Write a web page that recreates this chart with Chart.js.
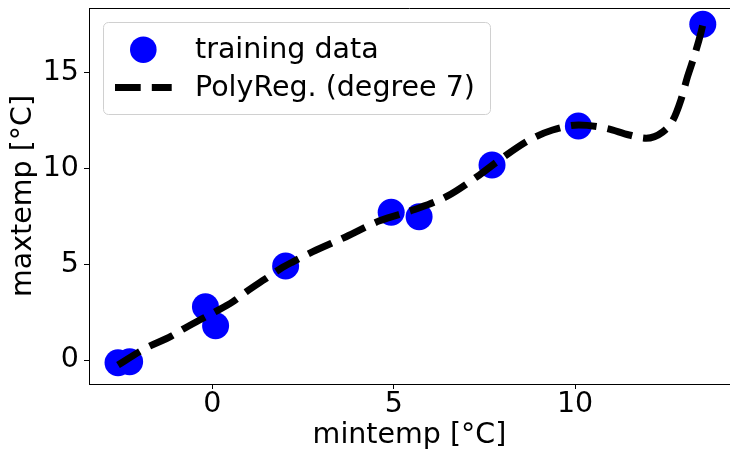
<!DOCTYPE html>
<html lang="en">
<head>
    <meta charset="UTF-8">
    <title>PolyReg degree 7</title>
    <script src="https://cdn.jsdelivr.net/npm/chart.js"></script>
    <style>
        html, body { margin: 0; padding: 0; background: #fff; }
        .chart-container { width: 730px; height: 451px; }
    </style>
</head>
<body>
    <div class="chart-container">
        <canvas id="polyChart"></canvas>
    </div>

    <script>
        // training data
        const trainX = [-2.60, -2.28, -0.19, 0.09, 2.02, 4.93, 5.70, 7.71, 10.09, 13.52];
        const trainY = [-0.14, -0.09, 2.78, 1.79, 4.91, 7.72, 7.48, 10.18, 12.22, 17.53];

        // fitted curve, sampled along the dashed line
        const curveX = [-2.60, -2.00, -1.77, -1.13, -0.85, -0.35, 0.06, 0.57, 0.94, 1.44, 1.94, 2.22,
                        2.77, 3.69, 4.61, 5.53, 6.45, 7.36, 7.91, 8.74, 9.38, 10.10, 10.85, 11.49,
                        11.96, 12.41, 12.69, 12.92, 13.10, 13.29, 13.47, 13.52];
        const curveY = [-0.26, 0.45, 0.69, 1.25, 1.57, 2.09, 2.50, 3.05, 3.57, 4.21, 4.84, 5.13,
                        5.66, 6.44, 7.27, 7.83, 8.53, 9.66, 10.44, 11.49, 12.01, 12.27, 12.10, 11.75,
                        11.58, 11.90, 12.50, 13.60, 14.80, 15.90, 17.10, 17.50];

        const xTicks = [0, 5, 10];
        const yTicks = [0, 5, 10, 15];

        const FONT = "'DejaVu Sans', sans-serif";
        const FSIZE = 28.5;

        // drop the extra room Chart.js keeps for edge labels
        function noPad(s) {
            s.paddingTop = 0;
            s.paddingBottom = 0;
            s.paddingLeft = 0;
            s.paddingRight = 0;
        }

        // matplotlib-like legend box + top spine
        const legendBox = {
            id: "legendBox",
            afterDraw(chart) {
                const ctx = chart.ctx;
                const area = chart.chartArea;
                const sets = chart.data.datasets;

                ctx.save();
                // top spine
                ctx.strokeStyle = "#000";
                ctx.lineWidth = 1;
                ctx.beginPath();
                ctx.moveTo(area.left, area.top + 0.5);
                ctx.lineTo(area.right, area.top + 0.5);
                ctx.stroke();

                // frame
                ctx.fillStyle = "rgba(255,255,255,0.8)";
                ctx.strokeStyle = "#d0d0d0";
                ctx.beginPath();
                ctx.roundRect(103.5, 22.5, 387, 92, 5);
                ctx.fill();
                ctx.stroke();

                // scatter handle
                ctx.fillStyle = sets[1].backgroundColor;
                ctx.beginPath();
                ctx.arc(143.3, 49.7, 13.3, 0, Math.PI * 2);
                ctx.fill();

                // line handle
                ctx.strokeStyle = sets[0].borderColor;
                ctx.lineWidth = sets[0].borderWidth;
                ctx.setLineDash(sets[0].borderDash);
                ctx.beginPath();
                ctx.moveTo(115, 87.5);
                ctx.lineTo(171.7, 87.5);
                ctx.stroke();
                ctx.setLineDash([]);

                ctx.fillStyle = "#000";
                ctx.font = FSIZE + "px " + FONT;
                ctx.textBaseline = "middle";
                ctx.textAlign = "left";
                ctx.fillText(sets[1].label, 195, 50.5);
                ctx.fillText(sets[0].label, 195, 88.5);
                ctx.restore();
            }
        };

        const ctx = document.getElementById("polyChart").getContext("2d");
        new Chart(ctx, {
            type: "scatter",
            data: {
                datasets: [{
                    label: "PolyReg. (degree 7)",
                    data: curveX.map((x, i) => ({ x: x, y: curveY[i] })),
                    showLine: true,
                    borderColor: "#000",
                    borderWidth: 7,
                    borderDash: [25.7, 11.1],
                    borderCapStyle: "butt",
                    pointRadius: 0,
                    cubicInterpolationMode: "monotone",
                    order: 0,
                }, {
                    label: "training data",
                    data: trainX.map((x, i) => ({ x: x, y: trainY[i] })),
                    backgroundColor: "#0000ff",
                    borderWidth: 0,
                    pointRadius: 13.5,
                    order: 1,
                }]
            },
            options: {
                responsive: true,
                maintainAspectRatio: false,
                animation: false,
                layout: { autoPadding: false, padding: { top: 8, right: 0, left: 0, bottom: 0 } },
                plugins: {
                    legend: { display: false },
                    tooltip: { enabled: false },
                },
                scales: {
                    x: {
                        type: "linear",
                        min: -3.4,
                        max: 14.27,
                        afterBuildTicks: (s) => { s.ticks = xTicks.map(v => ({ value: v })); },
                        afterFit: (s) => { s.height = 67; noPad(s); },
                        grid: { drawOnChartArea: false, drawTicks: true, tickLength: 5, color: "#000" },
                        border: { color: "#000", width: 1 },
                        ticks: { font: { family: FONT, size: FSIZE, lineHeight: 1 }, color: "#000", padding: 1 },
                        title: {
                            display: true,
                            text: "mintemp [°C]",
                            color: "#000",
                            font: { family: FONT, size: FSIZE, lineHeight: 1 },
                            padding: { top: 0, bottom: 1 },
                        },
                    },
                    y: {
                        type: "linear",
                        min: -1.25,
                        max: 18.38,
                        afterBuildTicks: (s) => { s.ticks = yTicks.map(v => ({ value: v })); },
                        afterFit: (s) => { s.width = 89; noPad(s); },
                        grid: { drawOnChartArea: false, drawTicks: true, tickLength: 5, color: "#000" },
                        border: { color: "#000", width: 1 },
                        ticks: { font: { family: FONT, size: FSIZE, lineHeight: 1 }, color: "#000", padding: 5 },
                        title: {
                            display: true,
                            text: "maxtemp [°C]",
                            color: "#000",
                            font: { family: FONT, size: FSIZE, lineHeight: 1 },
                            padding: { top: 9, bottom: 0 },
                        },
                    },
                },
            },
            plugins: [legendBox],
        });
    </script>
</body>
</html>
